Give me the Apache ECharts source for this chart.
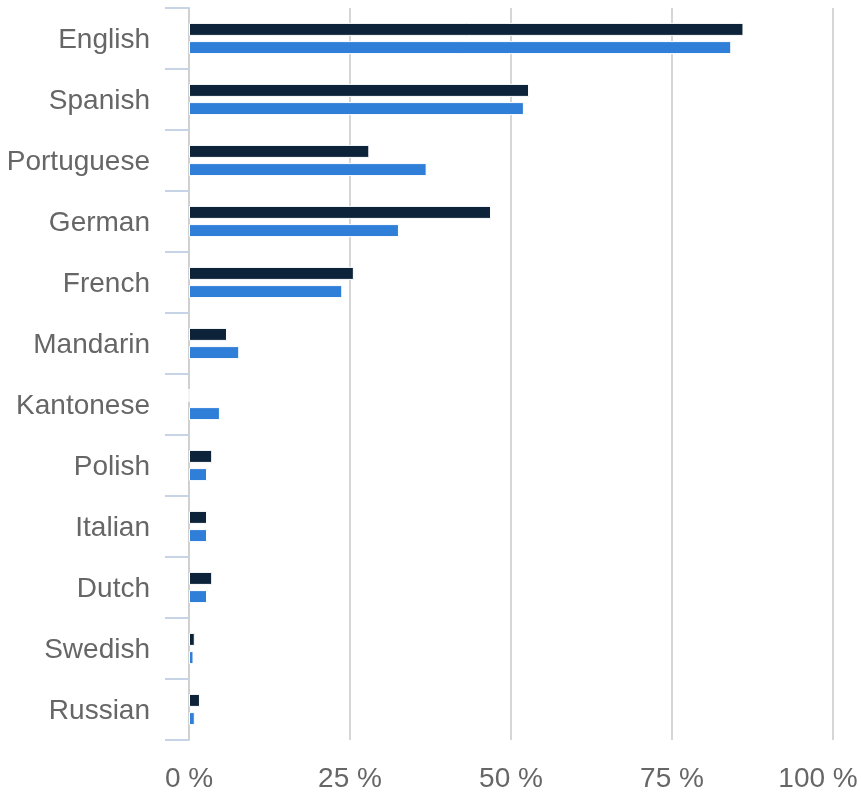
<!DOCTYPE html>
<html>
<head>
<meta charset="utf-8">
<script src="https://cdn.jsdelivr.net/npm/echarts@6/dist/echarts.min.js"></script>
<style>html,body{margin:0;padding:0;background:#fff}#c{width:861px;height:798px}</style>
</head>
<body>
<div id="c"></div>
<script>
const categories = ["English","Spanish","Portuguese","German","French","Mandarin","Kantonese","Polish","Italian","Dutch","Swedish","Russian"];
const seriesDark = [86.1, 52.8, 28.0, 46.9, 25.6, 5.9, 0, 3.6, 2.8, 3.6, 0.9, 1.7];
const seriesBlue = [84.2, 52.0, 36.9, 32.6, 23.8, 7.8, 4.8, 2.8, 2.8, 2.8, 0.7, 0.9];
const xTicks = [0, 25, 50, 75, 100];

const chart = echarts.init(document.getElementById('c'), null, {renderer: 'canvas'});
const font = "'Liberation Sans', Arial, sans-serif";
const maxTick = xTicks[xTicks.length-1];
chart.setOption({
  animation: false,
  backgroundColor: '#fff',
  grid: {left: 189, right: 28, top: 8, bottom: 58, containLabel: false, outerBoundsMode: 'none'},
  xAxis: {
    type: 'value', min: xTicks[0], max: maxTick, interval: 25,
    axisLine: {show: false}, axisTick: {show: false},
    splitLine: {show: true, lineStyle: {color: '#d6d6d6', width: 2}},
    axisLabel: {
      formatter: v => v === maxTick ? '{last|' + v + ' %}' : '{n|' + v + ' %}',
      color: '#666', fontSize: 28, fontFamily: font, margin: 25,
      rich: {
        n: {color: '#666', fontSize: 28, fontFamily: font},
        last: {color: '#666', fontSize: 28, fontFamily: font, padding: [0, 30, 0, 0]}
      }
    }
  },
  yAxis: {
    type: 'category', data: categories, inverse: true,
    axisLine: {show: true, lineStyle: {color: '#d0d0d0', width: 2}},
    axisTick: {show: true, length: 24, lineStyle: {color: '#c6d4e6', width: 2}},
    axisLabel: {
      formatter: v => '{a|' + v + '}',
      color: '#666', fontSize: 28, fontFamily: font, margin: 39,
      rich: {a: {color: '#666', fontSize: 28, fontFamily: font, padding: [4, 0, 0, 0]}}
    }
  },
  series: [
    {name: 'Series 1', type: 'bar', data: seriesDark, barWidth: 13, barGap: '40%',
     itemStyle: {color: '#0d233a', borderColor: '#fff', borderWidth: 1}},
    {name: 'Series 2', type: 'bar', data: seriesBlue, barWidth: 13,
     itemStyle: {color: '#2f7ed8', borderColor: '#fff', borderWidth: 1}}
  ]
});
</script>
</body>
</html>
